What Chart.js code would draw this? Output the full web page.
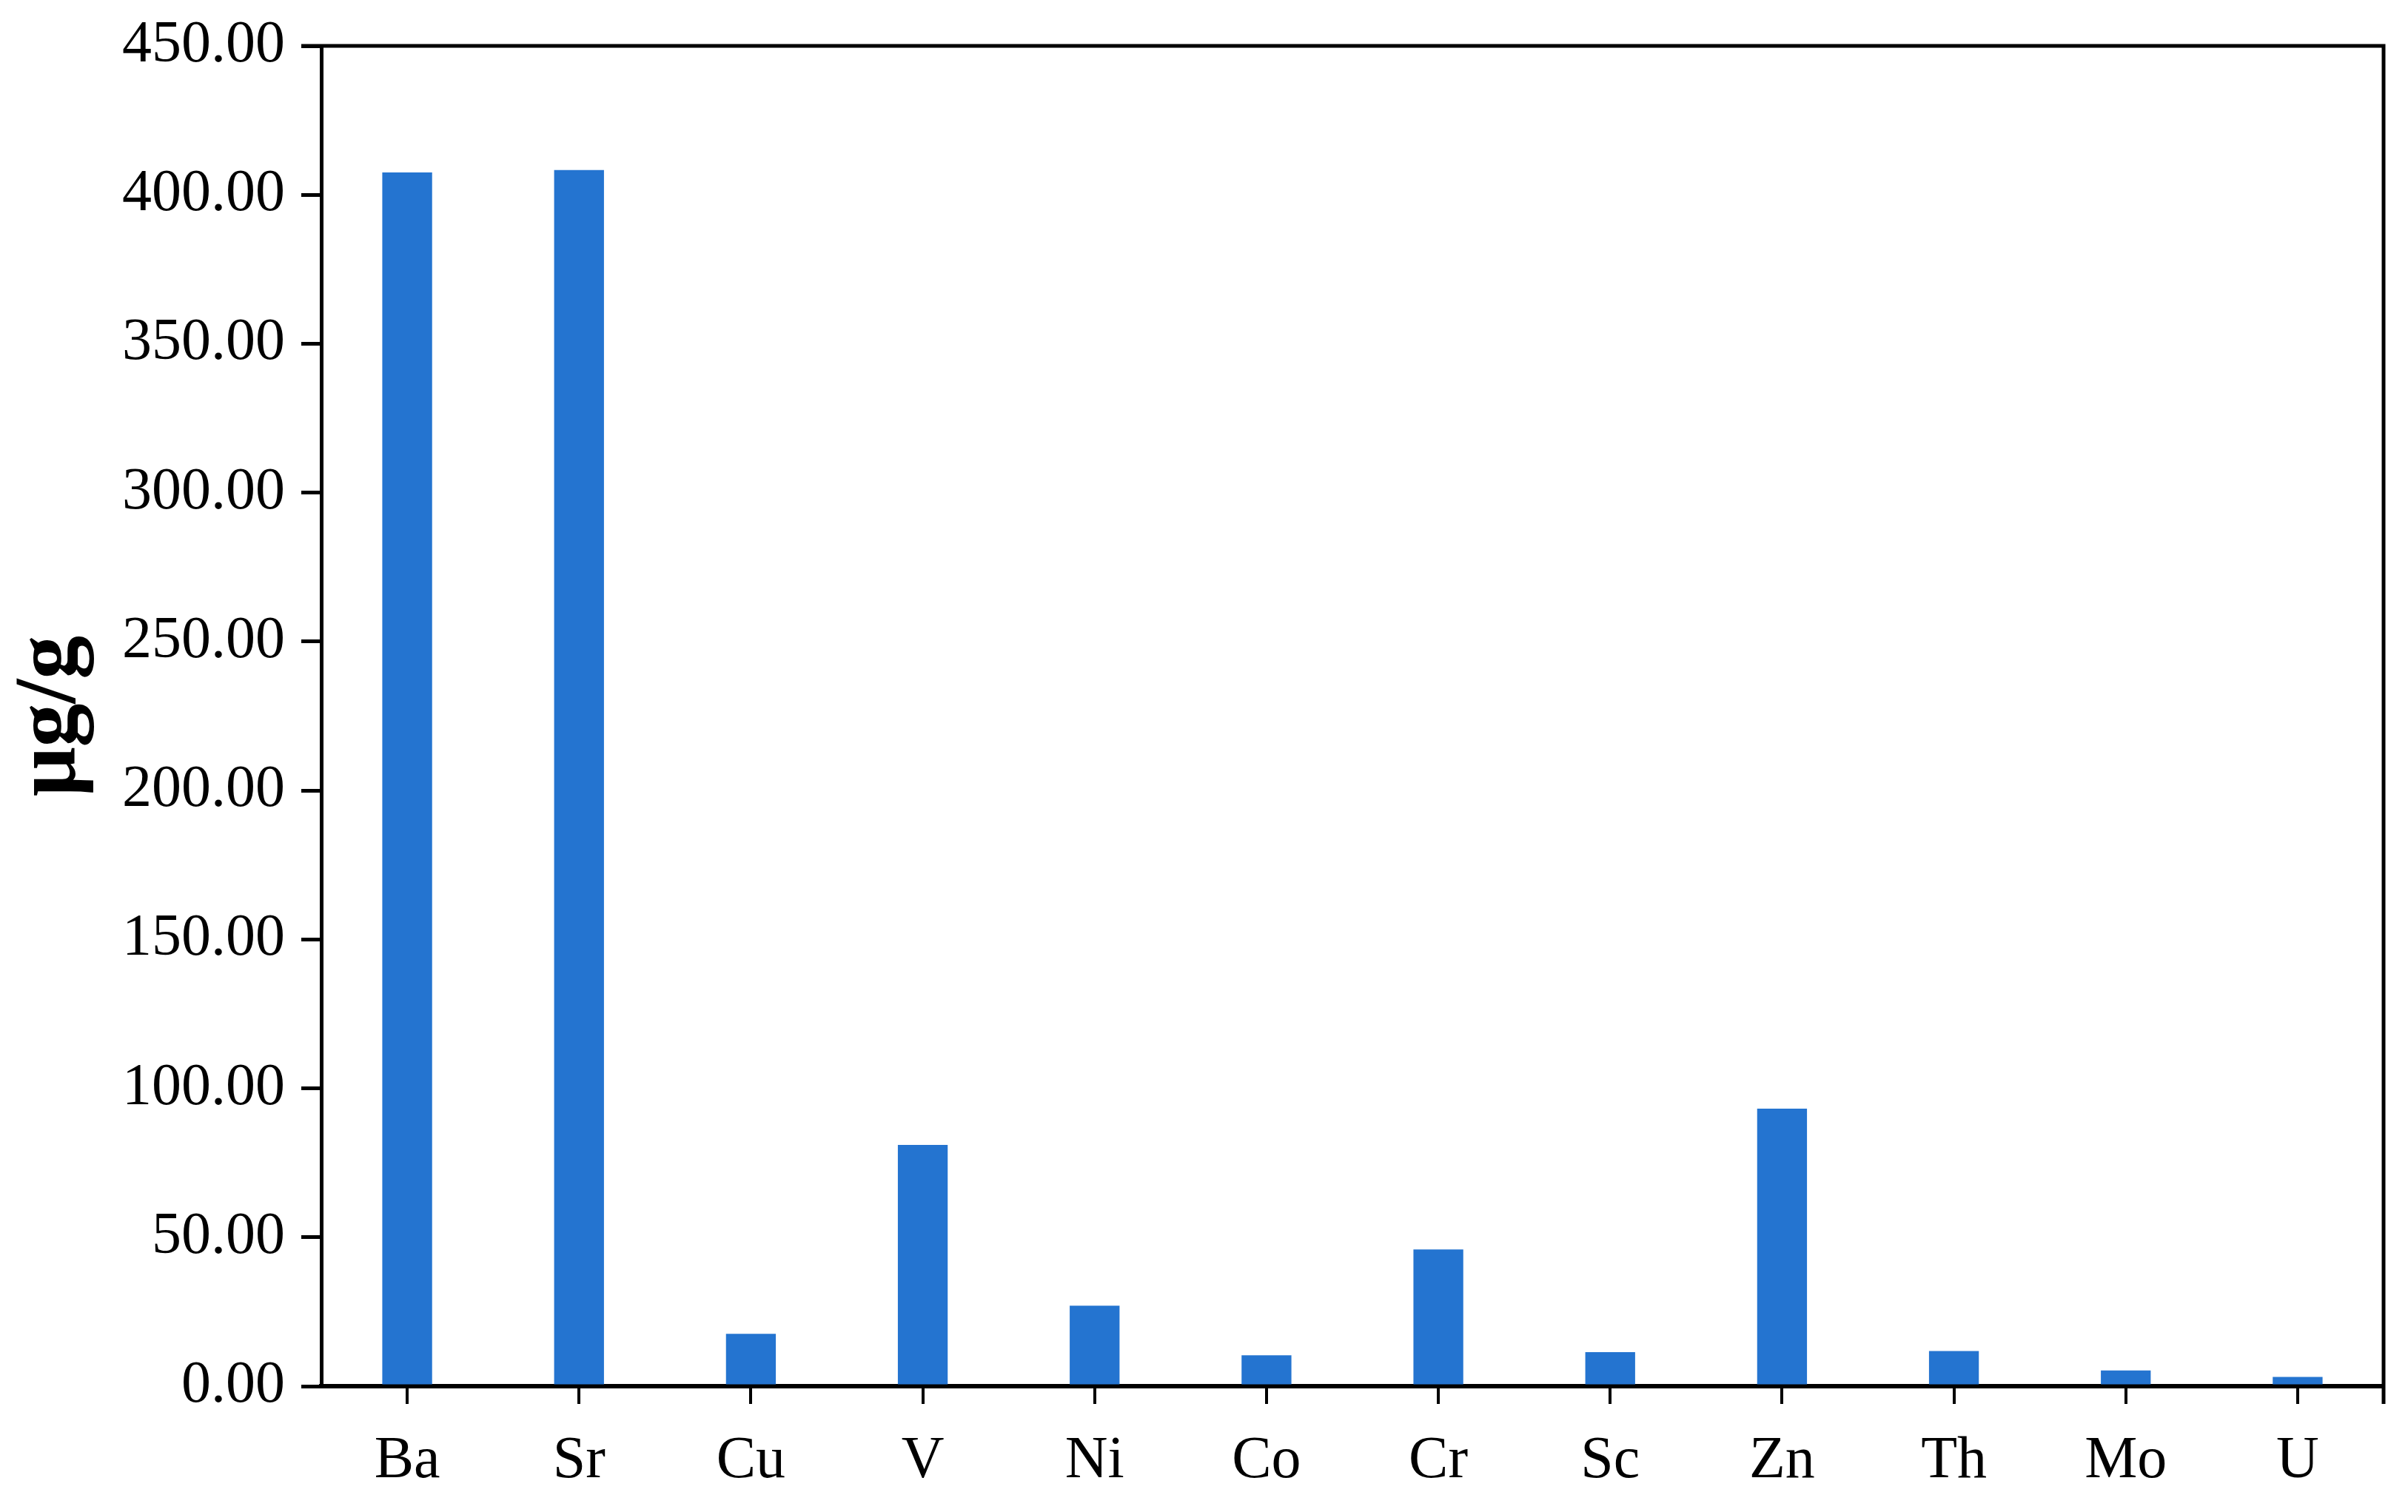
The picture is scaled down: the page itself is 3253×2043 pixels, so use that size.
<!DOCTYPE html>
<html>
<head>
<meta charset="utf-8">
<script src="https://cdn.jsdelivr.net/npm/chart.js@4/dist/chart.umd.min.js"></script>
<style>
html,body{margin:0;padding:0;background:#fff;}
#wrap{width:3253px;height:2043px;}
</style>
</head>
<body>
<div id="wrap"><canvas id="c" width="3253" height="2043"></canvas></div>
<script>
const categories = ['Ba','Sr','Cu','V','Ni','Co','Cr','Sc','Zn','Th','Mo','U'];
const values = [407.5, 408.3, 17.6, 81.0, 27.0, 10.4, 45.9, 11.4, 93.2, 11.8, 5.3, 3.1];
const yMin = 0, yMax = 450, yStep = 50;
const yTitle = 'μg/g';

const boxPlugin = {
  id: 'box',
  afterDraw(chart) {
    const {ctx, chartArea: a} = chart;
    ctx.save();
    ctx.strokeStyle = '#000';
    ctx.lineWidth = 5;
    ctx.beginPath();
    ctx.moveTo(a.left - 27, a.top);
    ctx.lineTo(a.right, a.top);
    ctx.lineTo(a.right, a.bottom + 24);
    ctx.stroke();
    ctx.restore();
  }
};

new Chart(document.getElementById('c'), {
  type: 'bar',
  data: {
    labels: categories,
    datasets: [{
      data: values,
      backgroundColor: 'rgb(36,116,208)',
      borderWidth: 0,
      barPercentage: 0.29,
      categoryPercentage: 1.0
    }]
  },
  options: {
    responsive: false,
    animation: false,
    devicePixelRatio: 1,
    layout: {padding: {left: 0, right: 33, top: 62, bottom: 0}},
    plugins: {legend: {display: false}, tooltip: {enabled: false}},
    scales: {
      x: {
        grid: {display: true, drawOnChartArea: false, offset: false, tickLength: 24, lineWidth: 4, color: '#000'},
        border: {display: true, width: 6, color: '#000'},
        ticks: {color: '#000', padding: 30, font: {family: 'Liberation Serif', size: 80}, maxRotation: 0},
        afterFit(s) { s.height = 2043 - 1873; s.paddingLeft = 0; s.paddingRight = 0; }
      },
      y: {
        min: yMin, max: yMax,
        grid: {display: true, drawOnChartArea: false, tickLength: 27, lineWidth: 5, color: '#000'},
        border: {display: true, width: 5, color: '#000'},
        ticks: {stepSize: yStep, color: '#000', padding: 22, font: {family: 'Liberation Serif', size: 80},
          callback: v => Number(v).toFixed(2)},
        title: {display: true, text: yTitle, color: '#000', padding: {top: 0, bottom: 6},
          font: {family: 'Liberation Serif', size: 118, weight: 'bold'}},
        afterFit(s) { s.width = 434; s.paddingTop = 0; s.paddingBottom = 0; }
      }
    }
  },
  plugins: [boxPlugin]
});
</script>
</body>
</html>
